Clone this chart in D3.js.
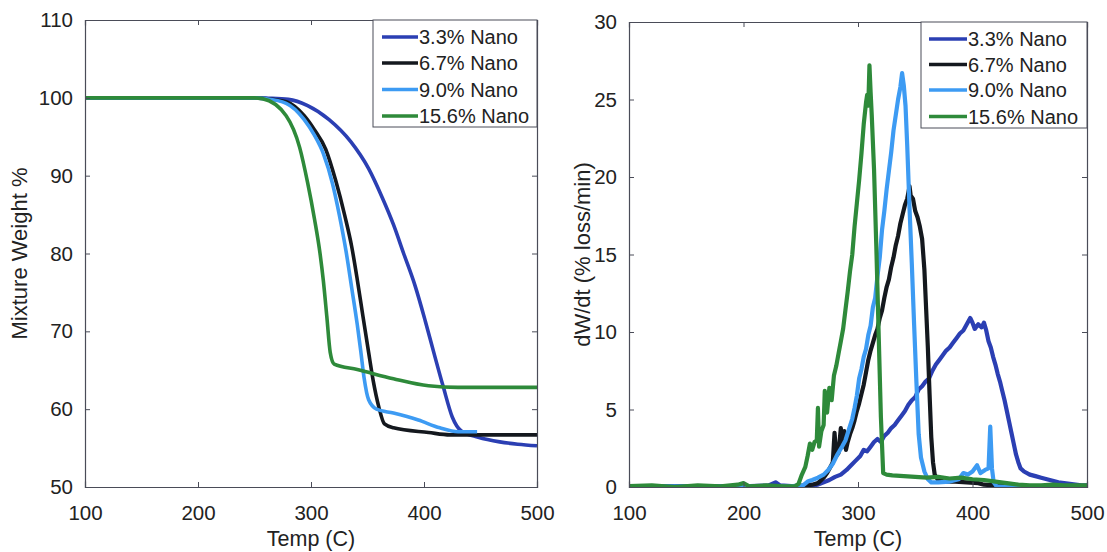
<!DOCTYPE html>
<html>
<head>
<meta charset="utf-8">
<script src="https://cdn.jsdelivr.net/npm/d3@7/dist/d3.min.js"></script>
<style>
  html, body { margin: 0; padding: 0; background: #fff; }
  svg { display: block; }
  text { font-family: "Liberation Sans", Arial, Helvetica, sans-serif; fill: #222; }
</style>
</head>
<body>
<svg id="chart" width="1107" height="552"></svg>
<script>
// Series labels and colours
const seriesNames = ["3.3% Nano", "6.7% Nano", "9.0% Nano", "15.6% Nano"];
const seriesColors = ["#2b3fb3", "#14181e", "#3d9bf3", "#2e8a3a"];

// Tick values
const tempTicks = [100, 200, 300, 400, 500];
const weightTicks = [50, 60, 70, 80, 90, 100, 110];
const rateTicks = [0, 5, 10, 15, 20, 25, 30];

// Thermogravimetric curves: [temperature (C), mixture weight %]
const tga33 = [[100,100],[250,100],[262,99.95],[280,99.8],[297,99.0],[316,97.2],[335,94.4],[351,90.9],[363,87.2],[373,83.7],[382,80.0],[392,75.9],[401,71.4],[409,67.1],[417,62.9],[425,59.0],[433,57.2],[448,56.4],[467,55.8],[483,55.5],[500,55.3]];
const tga67 = [[100,100],[250,100],[259,99.9],[278,99.5],[294,97.7],[303,95.9],[313,93.4],[322,89.3],[330,84.8],[336,80.9],[341,76.6],[346,71.9],[351,67.3],[355,63.7],[360,60.3],[365,58.1],[373,57.6],[404,57.0],[423,56.7],[500,56.7]];
const tga90 = [[100,100],[250,100],[259,99.9],[278,99.3],[294,97.2],[303,95.2],[311,92.8],[319,89.0],[325,85.0],[331,80.3],[336,75.6],[341,70.8],[344,67.5],[347,64.0],[351,61.2],[358,60.0],[373,59.5],[395,58.6],[414,57.6],[430,57.1],[447,57.1]];
const tga156 = [[100,100],[250,100],[257,99.9],[278,97.7],[290,93.6],[297,89.1],[303,84.5],[308,80.0],[311,76.4],[314,71.9],[317,67.3],[320.5,65.8],[341,65.1],[373,63.9],[404,63.0],[430,62.8],[500,62.8]];

// Derivative curves: [temperature (C), dW/dt (% loss/min)]
const dtg33 = [[100,0.05],[150,0.05],[200,0.05],[222,0.1],[228,0.3],[232,0.1],[245,0.05],[255,0.05],[260,0.1],[265,0.15],[270,0.3],[275,0.45],[280,0.65],[285,0.8],[290,1.1],[294,1.4],[298,1.7],[302,2.0],[305,2.4],[308,2.3],[311,2.6],[314,2.9],[317,3.1],[320,2.9],[323,3.3],[326,3.5],[329,3.8],[332,4.0],[335,4.3],[338,4.6],[341,4.9],[344,5.3],[347,5.6],[350,5.8],[353,6.3],[356,6.5],[359,6.8],[362,7.0],[365,7.5],[368,7.9],[371,8.2],[374,8.5],[377,8.8],[380,9.0],[383,9.3],[386,9.6],[389,9.9],[392,10.1],[395,10.5],[398,10.9],[400,10.6],[402,10.2],[405,10.5],[408,10.3],[410,10.6],[412,10.1],[414,9.4],[416,9.0],[418,8.4],[420,7.9],[422,7.3],[424,6.8],[426,6.2],[428,5.6],[430,4.9],[432,4.2],[434,3.5],[436,2.8],[438,2.1],[440,1.6],[442,1.2],[445,1.0],[450,0.8],[455,0.7],[460,0.6],[465,0.5],[470,0.4],[475,0.3],[480,0.25],[485,0.2],[490,0.15],[495,0.1],[500,0.1]];
const dtg67 = [[100,0.05],[150,0.05],[200,0.05],[240,0.05],[255,0.1],[260,0.15],[265,0.25],[270,0.6],[273,0.9],[276,1.3],[278,1.6],[279.5,3.5],[281,2.0],[283,2.2],[285,3.8],[286.5,2.6],[288,3.6],[289.5,2.4],[291,2.9],[293,3.4],[295,3.8],[297,4.3],[299,4.9],[301,5.4],[303,6.0],[305,6.6],[307,7.4],[309,8.2],[311,8.8],[313,9.3],[315,9.8],[317,10.2],[319,10.9],[321,11.4],[323,12.2],[325,12.9],[327,13.4],[329,14.2],[331,14.8],[333,15.6],[335,16.2],[337,17.0],[339,17.6],[341,18.2],[343,18.6],[345,19.4],[346,18.8],[348,18.6],[350,17.8],[352,17.4],[354,16.8],[356,16.0],[358,14.0],[359.5,11.5],[361,9.0],[362.5,6.0],[364,3.2],[365.5,1.6],[367,0.8],[370,0.45],[375,0.35],[385,0.35],[395,0.3],[405,0.25],[410,0.15],[420,0.1],[440,0.05],[470,0.05],[500,0.05]];
const dtg90 = [[100,0.05],[150,0.05],[200,0.05],[240,0.05],[252,0.1],[256,0.35],[260,0.45],[265,0.6],[270,0.8],[274,1.1],[278,1.5],[282,2.1],[286,2.6],[289,3.0],[292,3.7],[295,4.4],[297,5.1],[299,5.9],[301,7.0],[303,7.6],[305,8.4],[307,8.9],[309,9.8],[311,10.4],[313,11.6],[315,12.2],[317,13.6],[319,14.8],[321,16.6],[323,17.8],[325,19.2],[327,20.4],[329,21.6],[331,23.0],[333,24.0],[335,25.0],[337,25.8],[338.5,26.7],[340,25.9],[341.5,24.6],[343,22.0],[345,18.0],[347,14.4],[349,10.5],[351,6.8],[353,3.4],[355,1.9],[358,1.0],[361,0.5],[364,0.3],[370,0.3],[380,0.35],[388,0.5],[392,0.9],[396,0.8],[400,1.0],[404,1.4],[407,0.9],[411,1.1],[414,1.2],[415.5,3.9],[417,1.2],[418.5,0.3],[421,0.05],[430,0.0],[450,0.05],[470,0.05],[500,0.05]];
const dtg156 = [[100,0.05],[120,0.1],[140,0.0],[160,0.1],[180,0.05],[195,0.15],[200,0.25],[205,0.05],[220,0.1],[235,0.05],[245,0.05],[248,0.2],[251,0.8],[254,1.3],[256,2.0],[258,2.8],[260,2.4],[262,2.9],[264,3.0],[265,5.1],[266,2.6],[268,3.6],[270,4.0],[271,6.2],[273,4.8],[275,6.4],[277,5.6],[279,7.2],[281,7.8],[283,8.6],[285,9.4],[287,10.2],[289,11.4],[291,12.6],[293,13.9],[295,15.0],[297,16.8],[299,18.3],[301,19.8],[303,21.5],[305,23.4],[307,24.8],[308,25.3],[309,24.6],[310,27.2],[311,25.5],[312,24.0],[314,20.5],[316,15.5],[318,10.0],[320,4.5],[322,0.9],[325,0.8],[330,0.75],[340,0.7],[350,0.65],[360,0.6],[370,0.65],[380,0.55],[390,0.6],[400,0.5],[410,0.45],[420,0.35],[430,0.25],[440,0.15],[450,0.1],[460,0.1],[470,0.15],[480,0.1],[490,0.1],[500,0.1]];

const svg = d3.select("#chart");
const axisColor = "#4a4c58";

function drawPanel(opts) {
  const { left, right, top, bottom, yDomain, yTicks, series, yLabel, yLabelX, legendBox, lineWidth, curve, clipId } = opts;
  const x = d3.scaleLinear().domain([100, 500]).range([left, right]);
  const y = d3.scaleLinear().domain(yDomain).range([bottom, top]);
  const g = svg.append("g");

  g.append("clipPath").attr("id", clipId)
    .append("rect").attr("x", left).attr("y", top - 2).attr("width", right - left + 2).attr("height", bottom - top + 2);

  // Lines
  const line = d3.line().x(d => x(d[0])).y(d => y(d[1])).curve(curve);
  const plot = g.append("g").attr("clip-path", `url(#${clipId})`);
  series.forEach((s, i) => {
    plot.append("path")
      .datum(s)
      .attr("fill", "none")
      .attr("stroke", seriesColors[i])
      .attr("stroke-width", lineWidth)
      .attr("stroke-linejoin", "round")
      .attr("d", line);
  });

  // Axes with inward ticks on all four sides
  const tick = 5;
  const bottomAxis = d3.axisBottom(x).tickValues(tempTicks).tickSize(-tick).tickPadding(18).tickFormat(d3.format("d"));
  const topAxis = d3.axisTop(x).tickValues(tempTicks).tickSize(-tick).tickFormat("");
  const leftAxis = d3.axisLeft(y).tickValues(yTicks).tickSize(-tick).tickPadding(12).tickFormat(d3.format("d"));
  const rightAxis = d3.axisRight(y).tickValues(yTicks).tickSize(-tick).tickFormat("");

  const styleAxis = sel => {
    sel.select(".domain").attr("stroke", axisColor).attr("stroke-width", 1.2);
    sel.selectAll(".tick line").attr("stroke", axisColor).attr("stroke-width", 1);
    sel.selectAll(".tick text").attr("fill", "#222").style("font-size", "20.5px")
      .style("font-family", '"Liberation Sans", Arial, sans-serif');
  };
  g.append("g").attr("transform", `translate(0,${bottom})`).call(bottomAxis).call(styleAxis);
  g.append("g").attr("transform", `translate(0,${top})`).call(topAxis).call(styleAxis);
  g.append("g").attr("transform", `translate(${left},0)`).call(leftAxis).call(styleAxis);
  g.append("g").attr("transform", `translate(${right},0)`).call(rightAxis).call(styleAxis);
  g.selectAll(".domain").attr("stroke-linecap", "square");

  // Axis titles
  g.append("text")
    .attr("x", (left + right) / 2).attr("y", 546)
    .attr("text-anchor", "middle").style("font-size", "21.5px")
    .text("Temp (C)");
  g.append("text")
    .attr("transform", `translate(${yLabelX},${(top + bottom) / 2}) rotate(-90)`)
    .attr("text-anchor", "middle").style("font-size", "22px")
    .text(yLabel);

  // Legend
  const lg = g.append("g");
  lg.append("rect")
    .attr("x", legendBox.x).attr("y", legendBox.y)
    .attr("width", legendBox.w).attr("height", legendBox.h)
    .attr("fill", "#fff").attr("stroke", axisColor).attr("stroke-width", 1);
  seriesNames.forEach((name, i) => {
    const yy = legendBox.rows[i];
    lg.append("line")
      .attr("x1", legendBox.lineX0).attr("x2", legendBox.lineX1)
      .attr("y1", yy).attr("y2", yy)
      .attr("stroke", seriesColors[i]).attr("stroke-width", 3.5);
    lg.append("text")
      .attr("x", legendBox.lineX1 + 1).attr("y", yy)
      .attr("dy", "0.36em").style("font-size", "20px")
      .text(name);
  });
}

// Left: mixture weight vs temperature
drawPanel({
  left: 85, right: 537, top: 20, bottom: 487,
  yDomain: [50, 110], yTicks: weightTicks,
  series: [tga33, tga67, tga90, tga156],
  yLabel: "Mixture Weight %", yLabelX: 27,
  lineWidth: 3.6, curve: d3.curveMonotoneX, clipId: "clipL",
  legendBox: { x: 373, y: 20, w: 164, h: 107, lineX0: 382, lineX1: 418, rows: [37, 63, 89.5, 116] }
});

// Right: rate of weight loss vs temperature
drawPanel({
  left: 629, right: 1087, top: 22, bottom: 487,
  yDomain: [0, 30], yTicks: rateTicks,
  series: [dtg33, dtg67, dtg90, dtg156],
  yLabel: "dW/dt (% loss/min)", yLabelX: 590,
  lineWidth: 4.2, curve: d3.curveLinear, clipId: "clipR",
  legendBox: { x: 921, y: 22, w: 166, h: 106, lineX0: 929, lineX1: 967, rows: [39, 64.5, 90, 116.5] }
});
</script>
</body>
</html>
